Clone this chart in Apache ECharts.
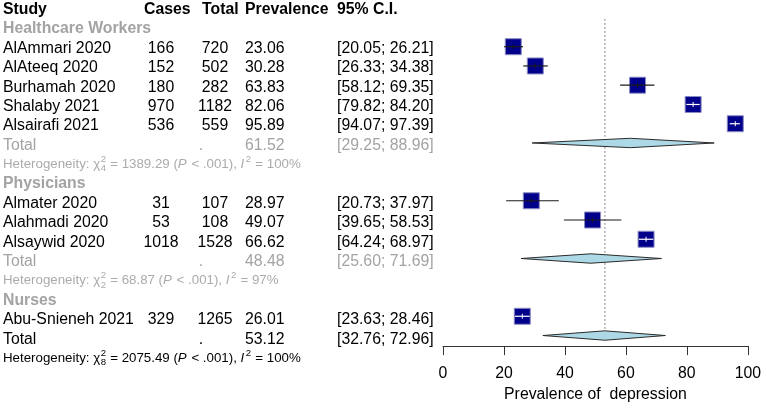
<!DOCTYPE html>
<html><head><meta charset="utf-8">
<script src="https://cdn.jsdelivr.net/npm/echarts@6/dist/echarts.min.js"></script>
<style>html,body{margin:0;padding:0;background:#fff}#c{width:764px;height:408px}</style>
</head><body><div id="c"></div>
<script>
// ---------------- data ----------------
const headers = ['Study', 'Cases', 'Total', 'Prevalence', '95% C.I.'];
const groups = ['Healthcare Workers', 'Physicians', 'Nurses'];
const studyNames = ['AlAmmari 2020', 'AlAteeq 2020', 'Burhamah 2020', 'Shalaby 2021', 'Alsairafi 2021',
  'Almater 2020', 'Alahmadi 2020', 'Alsaywid 2020', 'Abu-Snieneh 2021'];
const studyGroup = [0, 0, 0, 0, 0, 1, 1, 1, 2];
const cases = [166, 152, 180, 970, 536, 31, 53, 1018, 329];
const totals = [720, 502, 282, 1182, 559, 107, 108, 1528, 1265];
const prevalence = [23.06, 30.28, 63.83, 82.06, 95.89, 28.97, 49.07, 66.62, 26.01];
const ciLower = [20.05, 26.33, 58.12, 79.82, 94.07, 20.73, 39.65, 64.24, 23.63];
const ciUpper = [26.21, 34.38, 69.35, 84.20, 97.39, 37.97, 58.53, 68.97, 28.46];
const groupEstimate = [61.52, 48.48, null];
const groupLower = [29.25, 25.60, null];
const groupUpper = [88.96, 71.69, null];
const groupChi2 = ['1389.29', '68.87', null];
const groupDf = [4, 2, null];
const groupI2 = [100, 97, null];
const overallEstimate = 53.12, overallLower = 32.76, overallUpper = 72.96;
const overallChi2 = '2075.49', overallDf = 8, overallI2 = 100;
const xTicks = [0, 20, 40, 60, 80, 100];
const xTitle = 'Prevalence of  depression';

// ---------------- layout constants ----------------
const FONT = '"Liberation Sans", Arial, Helvetica, sans-serif';
const FS = 15.8, HFS = 13.3, SFS = 9.6;
const ROW0 = 8.2, PITCH = 19.38, AXIS_Y = 348.3;
const GREY = '#a3a3a3', HGREY = '#ababab';

// ---------------- rows ----------------
const rows = [];
let r = 0;
rows.push({kind: 'header', r: r++});
groups.forEach((g, gi) => {
  rows.push({kind: 'group', r: r++, label: g});
  studyNames.forEach((n, i) => {
    if (studyGroup[i] === gi) rows.push({kind: 'study', r: r++, i});
  });
  if (groupEstimate[gi] != null) {
    rows.push({kind: 'total', r: r++, est: groupEstimate[gi], lo: groupLower[gi], hi: groupUpper[gi], color: GREY});
    rows.push({kind: 'het', r: r++, chi: groupChi2[gi], df: groupDf[gi], i2: groupI2[gi], color: HGREY});
  }
});
const overallRow = r;
rows.push({kind: 'total', r: r++, est: overallEstimate, lo: overallLower, hi: overallUpper, color: '#000'});
rows.push({kind: 'het', r: r++, chi: overallChi2, df: overallDf, i2: overallI2, color: '#000'});
const nRows = r - 1;

const studyData = rows.filter(o => o.kind === 'study').map(o => [prevalence[o.i], ciLower[o.i], ciUpper[o.i], o.r]);
const diamondData = rows.filter(o => o.kind === 'total').map(o => [o.est, o.lo, o.hi, o.r]);
const refData = [[overallEstimate, 0.57, overallRow]];

// ---------------- text measuring ----------------
const mctx = document.createElement('canvas').getContext('2d');
function tw(t, size, style) { mctx.font = (style || '') + ' ' + size + 'px ' + FONT; return mctx.measureText(t).width; }
function txt(x, y, t, o) {
  return {type: 'text', x, y, style: Object.assign({text: t, fontFamily: FONT, fontSize: FS, fill: '#000', align: 'left', verticalAlign: 'middle'}, o || {})};
}

function hetChildren(x, y, row) {
  const c = row.color, out = [];
  const segs = [
    {t: 'Heterogeneity: '}, {t: '\u03C7'}, {sup: '2', sub: String(row.df)},
    {t: ' = ' + row.chi + ' ('}, {t: 'P', it: true}, {t: ' < .001), '},
    {t: 'I', it: true}, {sup: '2'}, {t: ' = ' + row.i2 + '%'}
  ];
  let cx = x;
  segs.forEach(s => {
    if (s.t != null) {
      out.push(txt(cx, y, s.t, {fontSize: HFS, fill: c, fontStyle: s.it ? 'italic' : 'normal'}));
      cx += tw(s.t, HFS, s.it ? 'italic' : '') + (s.it ? 1 : 0);
    } else {
      let w = tw(s.sup, SFS);
      out.push(txt(cx + 0.5, y - 5, s.sup, {fontSize: SFS, fill: c}));
      if (s.sub) { out.push(txt(cx + 0.5, y + 4.5, s.sub, {fontSize: SFS, fill: c})); w = Math.max(w, tw(s.sub, SFS)); }
      cx += w + 1;
    }
  });
  return out;
}

function renderText(params, api) {
  const row = rows[params.dataIndex];
  const y = api.coord([0, row.r])[1] + 1.5;
  const X = v => api.coord([v, row.r])[0];
  const ch = [];
  if (row.kind === 'header') {
    const hx = [3, 144, 202, 245, 337];
    headers.forEach((h, k) => ch.push(txt(X(hx[k]), y, h, {fontWeight: 'bold'})));
  } else if (row.kind === 'group') {
    ch.push(txt(X(3), y, row.label, {fontWeight: 'bold', fill: GREY}));
  } else if (row.kind === 'study') {
    const i = row.i;
    ch.push(txt(X(3), y, studyNames[i]));
    ch.push(txt(X(161), y, String(cases[i]), {align: 'center'}));
    ch.push(txt(X(215), y, String(totals[i]), {align: 'center'}));
    ch.push(txt(X(245), y, prevalence[i].toFixed(2)));
    ch.push(txt(X(337), y, '[' + ciLower[i].toFixed(2) + '; ' + ciUpper[i].toFixed(2) + ']'));
  } else if (row.kind === 'total') {
    const o = {fill: row.color};
    ch.push(txt(X(3), y, 'Total', o));
    ch.push(txt(X(201), y, '.', Object.assign({align: 'center'}, o)));
    ch.push(txt(X(245), y, row.est.toFixed(2), o));
    ch.push(txt(X(337), y, '[' + row.lo.toFixed(2) + '; ' + row.hi.toFixed(2) + ']', o));
  } else if (row.kind === 'het') {
    return {type: 'group', children: hetChildren(X(3), y - 0.5, row)};
  }
  return {type: 'group', children: ch};
}

function renderStudy(params, api) {
  const yv = api.value(3);
  const c = api.coord([api.value(0), yv]);
  const lo = api.coord([api.value(1), yv]);
  const hi = api.coord([api.value(2), yv]);
  const s = 16;
  const inside = (hi[0] - lo[0]) < s;
  const col = inside ? '#ffffff' : '#1a1a1a';
  return {type: 'group', children: [
    {type: 'rect', shape: {x: c[0] - s / 2, y: c[1] - s / 2, width: s, height: s},
      style: {fill: '#00008B', stroke: '#8c8cc4', lineWidth: 1}},
    {type: 'line', shape: {x1: lo[0], y1: c[1], x2: hi[0], y2: c[1]}, style: {stroke: col, lineWidth: 1.2}},
    {type: 'line', shape: {x1: c[0], y1: c[1] - 2.5, x2: c[0], y2: c[1] + 2.5}, style: {stroke: col, lineWidth: 1}}
  ]};
}

function renderDiamond(params, api) {
  const yv = api.value(3);
  const e = api.coord([api.value(0), yv]);
  const lo = api.coord([api.value(1), yv]);
  const hi = api.coord([api.value(2), yv]);
  const h = 4.7;
  return {type: 'polygon', shape: {points: [[lo[0], e[1]], [e[0], e[1] - h], [hi[0], e[1]], [e[0], e[1] + h]]},
    style: {fill: '#ADD8E6', stroke: '#2b2b2b', lineWidth: 1}};
}

function renderRef(params, api) {
  const top = api.coord([api.value(0), api.value(1)]);
  const bot = api.coord([api.value(0), api.value(2)]);
  return {type: 'line', shape: {x1: top[0], y1: top[1], x2: bot[0], y2: bot[1] - 4.7},
    style: {stroke: '#666', lineWidth: 1, lineDash: [1.5, 2.5]}};
}

const chart = echarts.init(document.getElementById('c'), null, {renderer: 'canvas'});
const gridLeft = 443, gridRight = 749;
const maxRowForest = (AXIS_Y - ROW0) / PITCH;
chart.setOption({
  animation: false,
  backgroundColor: '#fff',
  grid: [
    {left: gridLeft, width: gridRight - gridLeft, top: ROW0, height: AXIS_Y - ROW0},
    {left: 0, width: 764, top: ROW0, height: nRows * PITCH}
  ],
  xAxis: [
    {gridIndex: 0, type: 'value', position: 'bottom',
      min: xTicks[0], max: xTicks[xTicks.length - 1], interval: xTicks[1] - xTicks[0],
      splitLine: {show: false},
      axisLine: {show: true, onZero: false, lineStyle: {color: '#333', width: 1}},
      axisTick: {show: true, length: 9, lineStyle: {color: '#333', width: 1}},
      axisLabel: {fontSize: FS, color: '#000', fontFamily: FONT, margin: 20},
      name: xTitle, nameLocation: 'middle', nameGap: 39,
      nameTextStyle: {fontSize: FS, color: '#000', fontFamily: FONT}},
    {gridIndex: 1, type: 'value', min: 0, max: 764, show: false}
  ],
  yAxis: [
    {gridIndex: 0, type: 'value', min: 0, max: maxRowForest, inverse: true, show: false},
    {gridIndex: 1, type: 'value', min: 0, max: nRows, inverse: true, show: false}
  ],
  series: [
    {type: 'custom', xAxisIndex: 0, yAxisIndex: 0, data: refData, renderItem: renderRef, z: 1},
    {type: 'custom', xAxisIndex: 0, yAxisIndex: 0, data: diamondData, renderItem: renderDiamond, z: 2},
    {type: 'custom', xAxisIndex: 0, yAxisIndex: 0, data: studyData, renderItem: renderStudy, z: 3},
    {type: 'custom', xAxisIndex: 1, yAxisIndex: 1, data: rows.map(o => [0, o.r]), renderItem: renderText, z: 4}
  ]
});
</script>
</body></html>
